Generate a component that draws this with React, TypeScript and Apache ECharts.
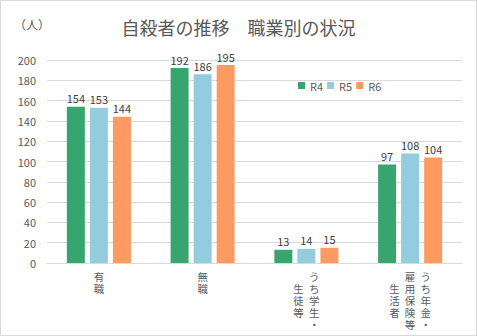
import React, { useEffect, useRef } from "react";
import * as echarts from "echarts";

const categories = ["有職", "無職", "うち学生・生徒等", "うち年金・雇用保険等生活者"];
// vertical label columns, right to left
const labelColumns: string[][] = [["有職"], ["無職"], ["うち学生・", "生徒等"], ["うち年金・", "雇用保険等", "生活者"]];
const seriesNames = ["R4", "R5", "R6"];
const r4 = [154, 192, 13, 97];
const r5 = [153, 186, 14, 108];
const r6 = [144, 195, 15, 104];
const colors = ["#37a56d", "#93cddd", "#fd9a62"];
const yTicks = { min: 0, max: 200, interval: 20 };

function verticalLabel(idx: number): string {
  const cols = labelColumns[idx];
  const maxLen = Math.max(...cols.map((c) => c.length));
  const padded = cols.map((c) => {
    const chars = Array.from(c);
    const off = Math.floor((maxLen - chars.length) / 2);
    const out: string[] = [];
    for (let i = 0; i < maxLen; i++) {
      const ch = chars[i - off];
      out.push(ch !== undefined ? ch : "\u3000");
    }
    return out;
  });
  const rows: string[] = [];
  for (let r = 0; r < maxLen; r++) {
    const row: string[] = [];
    for (let c = padded.length - 1; c >= 0; c--) row.push(padded[c][r]);
    rows.push(row.join("\u2002"));
  }
  return rows.join("\n");
}

export default function App() {
  const ref = useRef<HTMLDivElement>(null);
  useEffect(() => {
    document.body.style.margin = "0";
    const chart = echarts.init(ref.current!, null, { renderer: "svg" });
    const font = "'Noto Sans CJK JP', sans-serif";
    const data = [r4, r5, r6];
    chart.setOption({
      animation: false,
      textStyle: { fontFamily: font },
      title: {
        text: "自殺者の推移\u3000職業別の状況",
        left: "center",
        top: 13,
        textStyle: { fontSize: 18, fontWeight: "normal", color: "#595959", fontFamily: font },
      },
      graphic: [
        {
          type: "rect",
          shape: { x: 0.5, y: 0.5, width: 476, height: 335 },
          style: { fill: "none", stroke: "#d9d9d9", lineWidth: 1 },
        },
        {
          type: "text",
          left: 14,
          top: 18,
          style: { text: "（人）", fontSize: 12, fill: "#595959", fontFamily: font },
        },
      ],
      legend: {
        data: seriesNames,
        left: 298,
        top: 80,
        padding: 0,
        itemWidth: 7,
        itemHeight: 7,
        itemGap: 4,
        icon: "rect",
        textStyle: { fontSize: 11, color: "#595959" },
      },
      grid: { left: 47, right: 15, top: 60, bottom: 73, containLabel: false },
      xAxis: {
        type: "category",
        data: categories,
        axisLine: { lineStyle: { color: "#d9d9d9" } },
        axisTick: { show: false },
        axisLabel: {
          interval: 0,
          margin: 8,
          fontSize: 10.5,
          lineHeight: 12,
          color: "#595959",
          fontFamily: "'Liberation Sans', 'Noto Sans CJK JP', sans-serif",
          verticalAlign: "top",
          formatter: (_v: string, i: number) => verticalLabel(i),
        },
      },
      yAxis: {
        type: "value",
        min: yTicks.min,
        max: yTicks.max,
        interval: yTicks.interval,
        axisLine: { show: false },
        axisTick: { show: false },
        axisLabel: { fontSize: 11, color: "#595959", margin: 11 },
        splitLine: { lineStyle: { color: "#d9d9d9" } },
      },
      series: seriesNames.map((name, i) => ({
        name,
        type: "bar",
        data: data[i],
        barWidth: 18,
        barGap: "28%",
        itemStyle: { color: colors[i] },
        label: { show: true, position: "top", distance: 3, fontSize: 11, color: "#404040" },
      })),
    });
    return () => chart.dispose();
  }, []);
  return <div ref={ref} style={{ width: 477, height: 336 }} />;
}
